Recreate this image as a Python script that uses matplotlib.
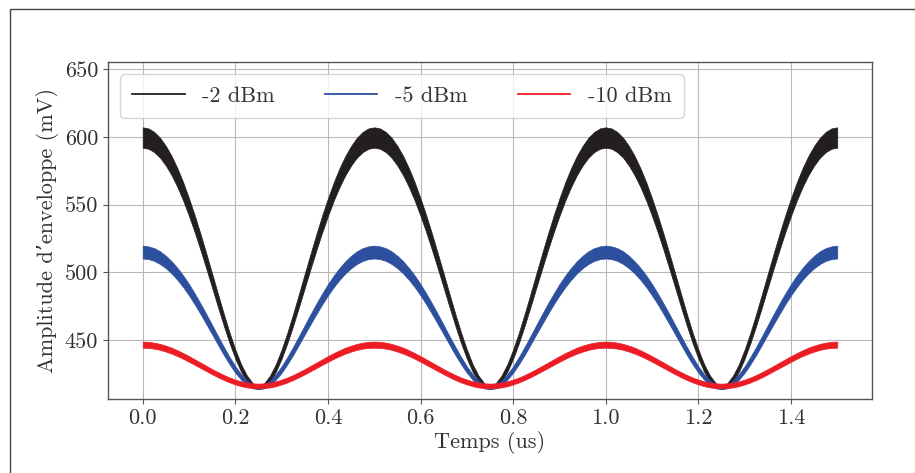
import numpy as np
import matplotlib
matplotlib.use('Agg')
import matplotlib.pyplot as plt
from matplotlib.lines import Line2D
from matplotlib.patches import Rectangle

plt.rcParams['font.family'] = ['cmr10', 'DejaVu Serif']
plt.rcParams['mathtext.fontset'] = 'cm'
plt.rcParams['axes.unicode_minus'] = False

# temps (us), echantillons
temps = np.linspace(0, 1.5, 121)

labels = ['-2 dBm', '-5 dBm', '-10 dBm']
colors = ['#231f20', '#2c4f9e', '#ed1c24']

# enveloppe haute / basse de la bande pour chaque puissance (mV)
haut_2dbm = [607, 606.2, 603.6, 599.3, 593.3, 585.8, 576.8, 566.4, 554.6, 541.9, 528.2, 513.8, 499.1, 484.2, 469.6, 455.7, 443.2, 432.3, 424.0, 418.3, 416,
             418.3, 424.0, 432.3, 443.2, 455.7, 469.6, 484.2, 499.1, 513.8, 528.2, 541.9, 554.6, 566.4, 576.8, 585.8, 593.3, 599.3, 603.6, 606.2, 607,
             606.2, 603.6, 599.3, 593.3, 585.8, 576.8, 566.4, 554.6, 541.9, 528.2, 513.8, 499.1, 484.2, 469.6, 455.7, 443.2, 432.3, 424.0, 418.3, 416,
             418.3, 424.0, 432.3, 443.2, 455.7, 469.6, 484.2, 499.1, 513.8, 528.2, 541.9, 554.6, 566.4, 576.8, 585.8, 593.3, 599.3, 603.6, 606.2, 607,
             606.2, 603.6, 599.3, 593.3, 585.8, 576.8, 566.4, 554.6, 541.9, 528.2, 513.8, 499.1, 484.2, 469.6, 455.7, 443.2, 432.3, 424.0, 418.3, 416,
             418.3, 424.0, 432.3, 443.2, 455.7, 469.6, 484.2, 499.1, 513.8, 528.2, 541.9, 554.6, 566.4, 576.8, 585.8, 593.3, 599.3, 603.6, 606.2, 607]
bas_2dbm = [592, 591.2, 588.7, 584.6, 578.8, 571.6, 562.9, 552.9, 541.6, 529.4, 516.3, 502.6, 488.6, 474.5, 460.8, 447.9, 436.4, 426.7, 419.5, 415.1, 414,
            415.1, 419.5, 426.7, 436.4, 447.9, 460.8, 474.5, 488.6, 502.6, 516.3, 529.4, 541.6, 552.9, 562.9, 571.6, 578.8, 584.6, 588.7, 591.2, 592,
            591.2, 588.7, 584.6, 578.8, 571.6, 562.9, 552.9, 541.6, 529.4, 516.3, 502.6, 488.6, 474.5, 460.8, 447.9, 436.4, 426.7, 419.5, 415.1, 414,
            415.1, 419.5, 426.7, 436.4, 447.9, 460.8, 474.5, 488.6, 502.6, 516.3, 529.4, 541.6, 552.9, 562.9, 571.6, 578.8, 584.6, 588.7, 591.2, 592,
            591.2, 588.7, 584.6, 578.8, 571.6, 562.9, 552.9, 541.6, 529.4, 516.3, 502.6, 488.6, 474.5, 460.8, 447.9, 436.4, 426.7, 419.5, 415.1, 414,
            415.1, 419.5, 426.7, 436.4, 447.9, 460.8, 474.5, 488.6, 502.6, 516.3, 529.4, 541.6, 552.9, 562.9, 571.6, 578.8, 584.6, 588.7, 591.2, 592]

haut_5dbm = [519.8, 519.2, 517.9, 515.6, 512.3, 508.2, 503.3, 497.7, 491.4, 484.4, 477.0, 469.2, 461.2, 453.1, 445.2, 437.7, 430.8, 425.0, 420.3, 417.3, 416,
             417.3, 420.3, 425.0, 430.8, 437.7, 445.2, 453.1, 461.2, 469.2, 477.0, 484.4, 491.4, 497.7, 503.3, 508.2, 512.3, 515.6, 517.9, 519.2, 519.8,
             519.2, 517.9, 515.6, 512.3, 508.2, 503.3, 497.7, 491.4, 484.4, 477.0, 469.2, 461.2, 453.1, 445.2, 437.7, 430.8, 425.0, 420.3, 417.3, 416,
             417.3, 420.3, 425.0, 430.8, 437.7, 445.2, 453.1, 461.2, 469.2, 477.0, 484.4, 491.4, 497.7, 503.3, 508.2, 512.3, 515.6, 517.9, 519.2, 519.8,
             519.2, 517.9, 515.6, 512.3, 508.2, 503.3, 497.7, 491.4, 484.4, 477.0, 469.2, 461.2, 453.1, 445.2, 437.7, 430.8, 425.0, 420.3, 417.3, 416,
             417.3, 420.3, 425.0, 430.8, 437.7, 445.2, 453.1, 461.2, 469.2, 477.0, 484.4, 491.4, 497.7, 503.3, 508.2, 512.3, 515.6, 517.9, 519.2, 519.8]
bas_5dbm = [510.3, 509.8, 508.5, 506.2, 503.1, 499.2, 494.5, 489.1, 483.0, 476.4, 469.2, 461.8, 454.3, 446.7, 439.2, 432.3, 426.0, 420.9, 416.9, 414.5, 414,
            414.5, 416.9, 420.9, 426.0, 432.3, 439.2, 446.7, 454.3, 461.8, 469.2, 476.4, 483.0, 489.1, 494.5, 499.2, 503.1, 506.2, 508.5, 509.8, 510.3,
            509.8, 508.5, 506.2, 503.1, 499.2, 494.5, 489.1, 483.0, 476.4, 469.2, 461.8, 454.3, 446.7, 439.2, 432.3, 426.0, 420.9, 416.9, 414.5, 414,
            414.5, 416.9, 420.9, 426.0, 432.3, 439.2, 446.7, 454.3, 461.8, 469.2, 476.4, 483.0, 489.1, 494.5, 499.2, 503.1, 506.2, 508.5, 509.8, 510.3,
            509.8, 508.5, 506.2, 503.1, 499.2, 494.5, 489.1, 483.0, 476.4, 469.2, 461.8, 454.3, 446.7, 439.2, 432.3, 426.0, 420.9, 416.9, 414.5, 414,
            414.5, 416.9, 420.9, 426.0, 432.3, 439.2, 446.7, 454.3, 461.8, 469.2, 476.4, 483.0, 489.1, 494.5, 499.2, 503.1, 506.2, 508.5, 509.8, 510.3]

haut_10dbm = [449, 448.8, 448.2, 447.3, 446.0, 444.5, 442.6, 440.5, 438.3, 435.9, 433.5, 431.1, 428.7, 426.5, 424.4, 422.5, 421.0, 419.7, 418.8, 418.2, 418,
              418.2, 418.8, 419.7, 421.0, 422.5, 424.4, 426.5, 428.7, 431.1, 433.5, 435.9, 438.3, 440.5, 442.6, 444.5, 446.0, 447.3, 448.2, 448.8, 449,
              448.8, 448.2, 447.3, 446.0, 444.5, 442.6, 440.5, 438.3, 435.9, 433.5, 431.1, 428.7, 426.5, 424.4, 422.5, 421.0, 419.7, 418.8, 418.2, 418,
              418.2, 418.8, 419.7, 421.0, 422.5, 424.4, 426.5, 428.7, 431.1, 433.5, 435.9, 438.3, 440.5, 442.6, 444.5, 446.0, 447.3, 448.2, 448.8, 449,
              448.8, 448.2, 447.3, 446.0, 444.5, 442.6, 440.5, 438.3, 435.9, 433.5, 431.1, 428.7, 426.5, 424.4, 422.5, 421.0, 419.7, 418.8, 418.2, 418,
              418.2, 418.8, 419.7, 421.0, 422.5, 424.4, 426.5, 428.7, 431.1, 433.5, 435.9, 438.3, 440.5, 442.6, 444.5, 446.0, 447.3, 448.2, 448.8, 449]
bas_10dbm = [444.5, 444.3, 443.8, 442.9, 441.6, 440.1, 438.3, 436.3, 434.1, 431.8, 429.5, 427.2, 424.9, 422.7, 420.7, 418.9, 417.4, 416.1, 415.2, 414.7, 414.5,
             414.7, 415.2, 416.1, 417.4, 418.9, 420.7, 422.7, 424.9, 427.2, 429.5, 431.8, 434.1, 436.3, 438.3, 440.1, 441.6, 442.9, 443.8, 444.3, 444.5,
             444.3, 443.8, 442.9, 441.6, 440.1, 438.3, 436.3, 434.1, 431.8, 429.5, 427.2, 424.9, 422.7, 420.7, 418.9, 417.4, 416.1, 415.2, 414.7, 414.5,
             414.7, 415.2, 416.1, 417.4, 418.9, 420.7, 422.7, 424.9, 427.2, 429.5, 431.8, 434.1, 436.3, 438.3, 440.1, 441.6, 442.9, 443.8, 444.3, 444.5,
             444.3, 443.8, 442.9, 441.6, 440.1, 438.3, 436.3, 434.1, 431.8, 429.5, 427.2, 424.9, 422.7, 420.7, 418.9, 417.4, 416.1, 415.2, 414.7, 414.5,
             414.7, 415.2, 416.1, 417.4, 418.9, 420.7, 422.7, 424.9, 427.2, 429.5, 431.8, 434.1, 436.3, 438.3, 440.1, 441.6, 442.9, 443.8, 444.3, 444.5]

bandes = [(haut_2dbm, bas_2dbm), (haut_5dbm, bas_5dbm), (haut_10dbm, bas_10dbm)]


def main():
	fig = plt.figure(figsize=(9.15, 4.73), dpi=100)
	ax = fig.add_axes([0.118, 0.156, 0.835, 0.713])

	for (haut, bas), c in zip(bandes, colors):
		ax.fill_between(temps, bas, haut, color=c, lw=0.5, edgecolor=c, zorder=3)

	ax.set_xlim(-0.075, 1.575)
	ax.set_ylim(406.5, 655.2)
	ax.set_xticks(np.arange(0, 1.41, 0.2))
	ax.set_yticks([450, 500, 550, 600, 650])
	ax.grid(True, color='#b8b8b8', lw=0.8, zorder=0)
	ax.set_axisbelow(True)

	for s in ax.spines.values():
		s.set_color('#555555')
		s.set_linewidth(1.0)
	ax.tick_params(labelsize=16, colors='#555555', labelcolor='#333333', length=3.5)

	ax.set_xlabel('Temps (us)', fontsize=16, color='#333333', labelpad=2)
	ax.set_ylabel('Amplitude d\u2019enveloppe (mV)', fontsize=16, color='#333333', labelpad=4)

	handles = [Line2D([], [], color=c, lw=1.3) for c in colors]
	leg = ax.legend(handles, labels, loc='upper left', ncol=3, fontsize=16,
					handlelength=2.35, columnspacing=2.25, handletextpad=0.8,
					borderpad=0.55, borderaxespad=0.55, fancybox=True, framealpha=0.8,
					edgecolor='#cccccc')
	for t in leg.get_texts():
		t.set_color('#333333')

	fig.patches.append(Rectangle((0.0104, -0.05), 1.2, 1.032, transform=fig.transFigure,
								 fill=False, edgecolor='#444444', lw=1.0))

	fig.savefig('out.png', dpi=100)


if __name__ == '__main__':
	main()
